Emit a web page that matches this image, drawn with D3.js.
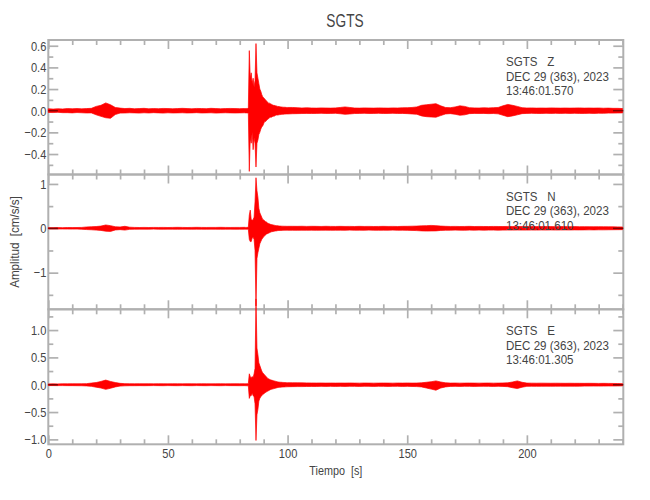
<!DOCTYPE html>
<html><head><meta charset="utf-8">
<script src="https://cdn.jsdelivr.net/npm/d3@7"></script>
<style>
body{margin:0;background:#fff;}
svg text{font-family:"Liberation Sans",Arial,sans-serif;fill:#444;white-space:pre;}
</style></head><body><svg id="c" width="650" height="500"></svg>
<script>
// ---------- text ----------
const title = "SGTS";
const xLabel = "Tiempo  [s]";
const yLabel = "Amplitud  [cm/s/s]";
const station = "SGTS";
const channels = ["Z", "N", "E"];
const dateLabel = "DEC 29 (363), 2023";
const startTimes = ["13:46:01.570", "13:46:01.610", "13:46:01.305"];

// ---------- axes ----------
const xDomain = [0, 240.3];
const xMajorTicks = [0, 50, 100, 150, 200];
const xMinorTicks = [10, 20, 30, 40, 60, 70, 80, 90, 110, 120, 130, 140, 160, 170, 180, 190, 210, 220, 230, 240];
const yDomains = [[-0.589, 0.653], [-1.826, 1.213], [-1.09, 1.38]];
const yMajorTicks = [[-0.4, -0.2, 0, 0.2, 0.4, 0.6], [-1, 0, 1], [-1, -0.5, 0, 0.5, 1]];
const yMinorTicks = [[-0.5, -0.3, -0.1, 0.1, 0.3, 0.5], [-1.5, -0.5, 0.5], [-0.75, -0.25, 0.25, 0.75, 1.25]];
const yTickFormats = [".1f", "d", ".1f"];

// ---------- sampling of envelope (start s, step s, count) ----------
const sampleSegments = [[0, 2, 42], [82.4, 0.4, 45], [102, 2, 70]];
const darkSpans = [[0, 4], [236, 240.3]];

// ---------- Z component envelope (upper / lower) ----------
const zUpper = [
  0.018,0.015,0.018,0.016,0.020,0.018,0.020,0.017,0.020,0.022,
  0.040,0.050,0.072,0.055,0.030,0.024,0.020,0.022,0.018,0.020,
  0.022,0.018,0.020,0.019,0.021,0.020,0.018,0.020,0.022,0.020,
  0.018,0.021,0.020,0.019,0.022,0.020,0.018,0.020,0.021,0.020,
  0.019,0.020,
  0.020,0.021,0.020,0.025, 0.555,0.30,0.35,0.25,0.30,0.22, 0.28,0.62,0.35,0.30,0.25,
  0.20,0.18,0.15,0.13,0.12, 0.11,0.10,0.09,0.08,0.07, 0.07,0.065,0.06,0.055,0.05,
  0.05,0.045,0.045,0.04,0.04, 0.038,0.036,0.035,0.034,0.033, 0.032,0.032,0.031,0.030,0.030,
  0.030,0.028,0.025,0.027,0.025,0.024,0.026,0.025,0.024,0.026,
  0.030,0.035,0.030,0.025,0.024,0.026,0.025,0.024,0.026,0.025,
  0.024,0.026,0.025,0.027,0.028,0.030,0.035,0.050,0.055,0.060,
  0.065,0.045,0.030,0.028,0.035,0.045,0.040,0.028,0.026,0.025,
  0.027,0.026,0.028,0.030,0.045,0.058,0.050,0.040,0.028,0.025,
  0.026,0.024,0.025,0.024,0.026,0.025,0.024,0.025,0.024,0.025,
  0.026,0.024,0.025,0.024,0.025,0.023,0.024,0.022,0.022,0.020
];
const zLower = [
  -0.016,-0.017,-0.015,-0.018,-0.018,-0.020,-0.017,-0.019,-0.021,-0.020,
  -0.038,-0.052,-0.065,-0.070,-0.035,-0.022,-0.021,-0.019,-0.020,-0.022,
  -0.019,-0.021,-0.018,-0.020,-0.022,-0.019,-0.021,-0.020,-0.019,-0.021,
  -0.020,-0.018,-0.021,-0.020,-0.019,-0.022,-0.020,-0.019,-0.020,-0.021,
  -0.020,-0.019,
  -0.020,-0.020,-0.021,-0.022, -0.56,-0.25,-0.30,-0.20,-0.36,-0.25, -0.30,-0.52,-0.30,-0.27,-0.22,
  -0.20,-0.17,-0.15,-0.14,-0.12, -0.10,-0.10,-0.09,-0.08,-0.075, -0.065,-0.06,-0.06,-0.055,-0.05,
  -0.05,-0.045,-0.04,-0.04,-0.04, -0.037,-0.036,-0.035,-0.033,-0.033, -0.032,-0.031,-0.031,-0.030,-0.030,
  -0.028,-0.027,-0.026,-0.025,-0.026,-0.025,-0.024,-0.026,-0.025,-0.024,
  -0.028,-0.033,-0.030,-0.026,-0.025,-0.024,-0.026,-0.025,-0.024,-0.026,
  -0.025,-0.024,-0.026,-0.025,-0.027,-0.030,-0.033,-0.048,-0.055,-0.058,
  -0.060,-0.045,-0.030,-0.027,-0.033,-0.042,-0.038,-0.027,-0.025,-0.026,
  -0.025,-0.027,-0.026,-0.029,-0.042,-0.055,-0.048,-0.038,-0.027,-0.025,
  -0.024,-0.025,-0.026,-0.024,-0.025,-0.024,-0.025,-0.024,-0.025,-0.024,
  -0.025,-0.025,-0.024,-0.025,-0.023,-0.024,-0.022,-0.022,-0.021,-0.020
];

// ---------- N component envelope ----------
const nUpper = [
  0.015,0.015,0.016,0.015,0.018,0.016,0.018,0.020,0.030,0.035,
  0.040,0.050,0.075,0.060,0.035,0.030,0.045,0.025,0.020,0.018,
  0.020,0.018,0.020,0.019,0.020,0.018,0.020,0.022,0.020,0.018,
  0.020,0.022,0.020,0.019,0.020,0.020,0.022,0.020,0.019,0.020,
  0.020,0.022,
  0.020,0.020,0.021,0.022, 0.30,0.41,0.20,0.18,0.20,0.25, 0.60,1.14,0.85,0.70,0.45,
  0.35,0.30,0.25,0.20,0.19, 0.17,0.15,0.14,0.12,0.11, 0.10,0.09,0.085,0.08,0.075,
  0.07,0.065,0.06,0.06,0.055, 0.052,0.05,0.05,0.048,0.048, 0.047,0.046,0.046,0.045,0.045,
  0.045,0.044,0.046,0.043,0.045,0.044,0.042,0.045,0.043,0.042,
  0.044,0.042,0.043,0.041,0.044,0.042,0.043,0.041,0.042,0.044,
  0.042,0.043,0.041,0.044,0.045,0.048,0.050,0.055,0.060,0.065,
  0.060,0.050,0.045,0.042,0.043,0.041,0.042,0.044,0.040,0.042,
  0.041,0.040,0.042,0.041,0.040,0.042,0.041,0.040,0.039,0.041,
  0.040,0.038,0.039,0.040,0.038,0.037,0.039,0.038,0.037,0.038,
  0.036,0.037,0.036,0.035,0.036,0.035,0.034,0.033,0.032,0.030
];
const nLower = [
  -0.015,-0.016,-0.015,-0.016,-0.017,-0.018,-0.017,-0.022,-0.028,-0.033,
  -0.040,-0.048,-0.065,-0.070,-0.038,-0.030,-0.040,-0.024,-0.020,-0.019,
  -0.019,-0.020,-0.018,-0.020,-0.021,-0.019,-0.020,-0.021,-0.019,-0.020,
  -0.021,-0.019,-0.020,-0.021,-0.019,-0.020,-0.021,-0.020,-0.019,-0.021,
  -0.020,-0.020,
  -0.020,-0.021,-0.020,-0.022, -0.25,-0.30,-0.30,-0.22,-0.20,-0.25, -0.50,-1.75,-0.68,-0.55,-0.45,
  -0.35,-0.30,-0.25,-0.22,-0.19, -0.17,-0.15,-0.13,-0.12,-0.11, -0.10,-0.09,-0.08,-0.075,-0.07,
  -0.065,-0.06,-0.06,-0.055,-0.05, -0.05,-0.048,-0.048,-0.047,-0.046, -0.046,-0.045,-0.045,-0.044,-0.044,
  -0.044,-0.045,-0.043,-0.044,-0.042,-0.045,-0.043,-0.042,-0.044,-0.043,
  -0.042,-0.044,-0.041,-0.043,-0.042,-0.044,-0.041,-0.043,-0.044,-0.042,
  -0.043,-0.041,-0.044,-0.042,-0.046,-0.047,-0.052,-0.058,-0.062,-0.060,
  -0.058,-0.048,-0.044,-0.043,-0.041,-0.042,-0.044,-0.041,-0.042,-0.040,
  -0.042,-0.041,-0.040,-0.042,-0.041,-0.040,-0.041,-0.039,-0.040,-0.040,
  -0.039,-0.040,-0.038,-0.039,-0.037,-0.039,-0.038,-0.037,-0.038,-0.036,
  -0.037,-0.036,-0.035,-0.036,-0.034,-0.035,-0.033,-0.032,-0.031,-0.030
];

// ---------- E component envelope ----------
const eUpper = [
  0.015,0.016,0.015,0.017,0.016,0.018,0.017,0.018,0.020,0.030,
  0.040,0.060,0.085,0.060,0.040,0.025,0.020,0.018,0.017,0.018,
  0.017,0.018,0.016,0.018,0.017,0.016,0.018,0.017,0.016,0.018,
  0.017,0.016,0.018,0.017,0.016,0.017,0.018,0.016,0.017,0.018,
  0.017,0.018,
  0.018,0.019,0.020,0.020, 0.20,0.15,0.12,0.15,0.13,0.20, 0.30,1.57,0.67,0.55,0.40,
  0.35,0.30,0.25,0.22,0.20, 0.18,0.16,0.14,0.12,0.11, 0.10,0.09,0.085,0.08,0.075,
  0.07,0.065,0.06,0.055,0.05, 0.048,0.046,0.045,0.044,0.042, 0.041,0.040,0.039,0.038,0.037,
  0.036,0.035,0.034,0.033,0.032,0.031,0.032,0.030,0.031,0.030,
  0.031,0.030,0.032,0.030,0.029,0.031,0.030,0.029,0.030,0.031,
  0.030,0.029,0.031,0.030,0.032,0.030,0.031,0.035,0.045,0.055,
  0.070,0.050,0.035,0.030,0.031,0.029,0.030,0.031,0.030,0.029,
  0.030,0.031,0.029,0.030,0.032,0.035,0.050,0.070,0.045,0.030,
  0.029,0.028,0.029,0.028,0.027,0.028,0.027,0.026,0.027,0.026,
  0.026,0.025,0.026,0.025,0.024,0.025,0.024,0.023,0.022,0.020
];
const eLower = [
  -0.015,-0.015,-0.016,-0.016,-0.017,-0.017,-0.018,-0.019,-0.022,-0.030,
  -0.045,-0.060,-0.085,-0.065,-0.040,-0.025,-0.020,-0.018,-0.018,-0.017,
  -0.018,-0.017,-0.016,-0.017,-0.018,-0.016,-0.017,-0.018,-0.016,-0.017,
  -0.018,-0.016,-0.017,-0.018,-0.016,-0.017,-0.018,-0.016,-0.017,-0.017,
  -0.018,-0.017,
  -0.018,-0.019,-0.020,-0.020, -0.25,-0.20,-0.20,-0.15,-0.20,-0.22, -0.35,-1.02,-0.55,-0.45,-0.30,
  -0.25,-0.22,-0.20,-0.18,-0.17, -0.15,-0.14,-0.13,-0.12,-0.11, -0.10,-0.09,-0.085,-0.08,-0.075,
  -0.07,-0.065,-0.06,-0.055,-0.05, -0.048,-0.046,-0.045,-0.043,-0.042, -0.041,-0.040,-0.039,-0.038,-0.037,
  -0.035,-0.034,-0.034,-0.032,-0.031,-0.032,-0.030,-0.031,-0.030,-0.031,
  -0.030,-0.031,-0.029,-0.030,-0.031,-0.029,-0.030,-0.031,-0.029,-0.030,
  -0.031,-0.030,-0.029,-0.031,-0.030,-0.032,-0.034,-0.040,-0.060,-0.080,
  -0.100,-0.060,-0.040,-0.031,-0.030,-0.031,-0.029,-0.030,-0.031,-0.030,
  -0.029,-0.030,-0.031,-0.029,-0.031,-0.036,-0.055,-0.070,-0.045,-0.030,
  -0.028,-0.029,-0.028,-0.027,-0.028,-0.027,-0.026,-0.027,-0.026,-0.027,
  -0.026,-0.025,-0.025,-0.024,-0.025,-0.024,-0.023,-0.023,-0.022,-0.020
];

const uppers = [zUpper, nUpper, eUpper];
const lowers = [zLower, nLower, eLower];

// ---------- layout ----------
const left = 48.3, right = 623.3;
const panelTops = [40, 174.5, 309.3];
const panelBottoms = [174.5, 309.3, 444.3];
const axisColor = "#b0b0b0";
const traceColor = "#ff0000";

// horizontally condense text to mimic the narrow plotting font
function squeeze(sel, f) {
  sel.each(function () {
    const L = this.getComputedTextLength();
    if (L > 0) d3.select(this).attr("textLength", L * f).attr("lengthAdjust", "spacingAndGlyphs");
  });
}

const sampleTimes = sampleSegments.flatMap(([s, st, n]) => d3.range(n).map(i => +(s + i * st).toFixed(3)));

const svg = d3.select("#c");
const x = d3.scaleLinear().domain(xDomain).range([left, right]);

const axisLayer = svg.append("g");
const traceLayer = svg.append("g");

channels.forEach((ch, p) => {
  const top = panelTops[p], bottom = panelBottoms[p];
  const y = d3.scaleLinear().domain(yDomains[p]).range([bottom, top]);
  const up = uppers[p], lo = lowers[p];
  const n = Math.min(sampleTimes.length, up.length, lo.length);
  const idx = d3.range(n);

  const g = axisLayer.append("g");
  g.append("rect").attr("x", left).attr("y", top).attr("width", right - left).attr("height", bottom - top)
    .attr("fill", "none").attr("stroke", axisColor).attr("stroke-width", 2);

  const fmt = d3.format(yTickFormats[p]);
  const styleAxis = sel => {
    sel.select(".domain").remove();
    sel.selectAll(".tick line").attr("stroke", axisColor).attr("stroke-width", 1.7);
    sel.selectAll(".tick text").attr("fill", "#555").style("font-size", "13.5px")
      .style("font-family", '"Liberation Sans",Arial,sans-serif');
  };
  const yl = g.append("g").attr("transform", `translate(${left},0)`)
    .call(d3.axisLeft(y).tickValues(yMajorTicks[p]).tickSize(-10).tickPadding(2).tickFormat(fmt)).call(styleAxis);
  squeeze(yl.selectAll(".tick text"), 0.82);
  g.append("g").attr("transform", `translate(${left},0)`)
    .call(d3.axisLeft(y).tickValues(yMinorTicks[p]).tickSize(-5).tickFormat("")).call(styleAxis);
  g.append("g").attr("transform", `translate(${right},0)`)
    .call(d3.axisRight(y).tickValues(yMajorTicks[p]).tickSize(-10).tickFormat("")).call(styleAxis);
  g.append("g").attr("transform", `translate(${right},0)`)
    .call(d3.axisRight(y).tickValues(yMinorTicks[p]).tickSize(-5).tickFormat("")).call(styleAxis);
  g.append("g").attr("transform", `translate(0,${top})`)
    .call(d3.axisTop(x).tickValues(xMajorTicks).tickSize(-9).tickFormat("")).call(styleAxis);
  g.append("g").attr("transform", `translate(0,${top})`)
    .call(d3.axisTop(x).tickValues(xMinorTicks).tickSize(-5).tickFormat("")).call(styleAxis);
  const isLast = p === channels.length - 1;
  const xb = g.append("g").attr("transform", `translate(0,${bottom})`)
    .call(d3.axisBottom(x).tickValues(xMajorTicks).tickSize(-9).tickPadding(4)
      .tickFormat(isLast ? d3.format("d") : "")).call(styleAxis);
  squeeze(xb.selectAll(".tick text"), 0.82);
  g.append("g").attr("transform", `translate(0,${bottom})`)
    .call(d3.axisBottom(x).tickValues(xMinorTicks).tickSize(-5).tickFormat("")).call(styleAxis);

  // trace envelope
  const area = d3.area()
    .x(i => x(sampleTimes[i]))
    .y0(i => y(lo[i]))
    .y1(i => y(up[i]));
  traceLayer.append("path").datum(idx).attr("d", area)
    .attr("fill", traceColor).attr("stroke", traceColor).attr("stroke-width", 0.7)
    .attr("stroke-linejoin", "miter");

  darkSpans.forEach(([a, b]) => {
    traceLayer.append("line").attr("x1", x(a)).attr("x2", x(b)).attr("y1", y(0)).attr("y2", y(0))
      .attr("stroke", "#7a0000").attr("stroke-width", 1.3);
  });

  // station annotation
  const tx = 506, ty = top + 26;
  const ann = svg.append("g").style("font-size", "13px");
  [`${station}   ${ch}`, dateLabel, startTimes[p]].forEach((s, k) => {
    const t = ann.append("text").attr("x", tx).attr("y", ty + k * 14.5).attr("fill", "#333").text(s);
    squeeze(t, 0.89);
  });
});

// title & axis labels
const tt = svg.append("text").attr("x", 345).attr("y", 27).attr("text-anchor", "middle")
  .style("font-size", "18px").attr("fill", "#555").text(title);
squeeze(tt, 0.76);
const xt = svg.append("text").attr("x", (left + right) / 2).attr("y", 475).attr("text-anchor", "middle")
  .style("font-size", "13.5px").attr("fill", "#444").text(xLabel);
squeeze(xt, 0.8);
const ytl = svg.append("text").attr("transform", `translate(19,242) rotate(-90)`).attr("text-anchor", "middle")
  .style("font-size", "13.5px").attr("fill", "#444").text(yLabel);
squeeze(ytl, 0.86);
</script></body></html>
